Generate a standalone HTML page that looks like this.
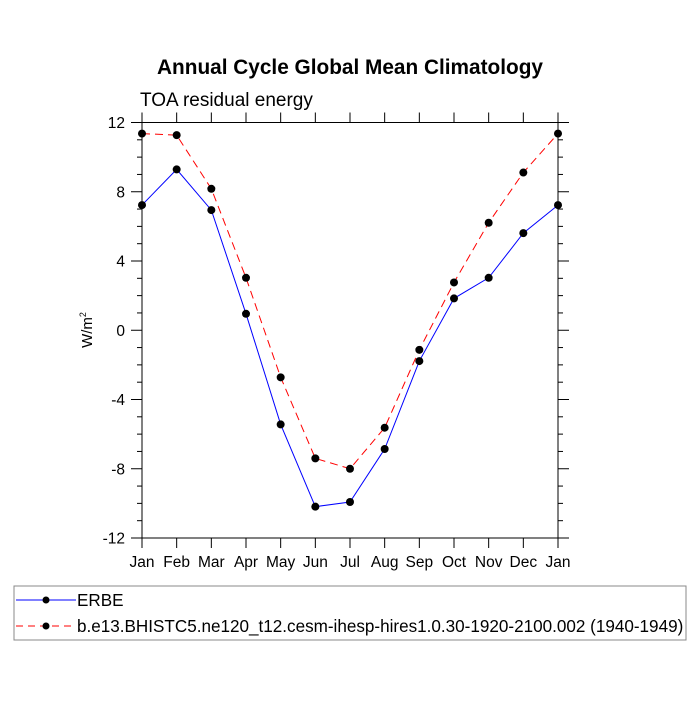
<!DOCTYPE html>
<html><head><meta charset="utf-8"><style>
body{margin:0;background:#fff}
svg text{font-family:"Liberation Sans",Arial,sans-serif}
</style></head><body>
<svg id="chart" width="700" height="700">
<text x="350" y="74" text-anchor="middle" font-size="20.8" font-weight="bold">Annual Cycle Global Mean Climatology</text>
<text x="140" y="106" font-size="19">TOA residual energy</text>
<text transform="translate(92,330) rotate(-90)" text-anchor="middle" font-size="15">W/m<tspan font-size="9" dy="-6">2</tspan></text>
<g id="axes"></g>
<g id="series"></g>
<rect x="14" y="586" width="672" height="54" fill="none" stroke="#888" stroke-width="1"/>
<g>
<line x1="16" y1="600" x2="76" y2="600" stroke="#00f" stroke-width="1"/>
<circle cx="46" cy="600" r="3.5" fill="#000"/>
<text x="77" y="606" font-size="17.1">ERBE</text>
</g>
<g>
<line x1="16" y1="626" x2="76" y2="626" stroke="#f00" stroke-width="1" stroke-dasharray="7,5"/>
<circle cx="46" cy="626" r="3.5" fill="#000"/>
<text x="77" y="632" font-size="17.1">b.e13.BHISTC5.ne120_t12.cesm-ihesp-hires1.0.30-1920-2100.002 (1940-1949)</text>
</g>
</svg>
<script>
const months=["Jan","Feb","Mar","Apr","May","Jun","Jul","Aug","Sep","Oct","Nov","Dec","Jan"];
const yTicks=[-12,-8,-4,0,4,8,12];
const erbe=[7.23,9.29,6.94,0.95,-5.44,-10.19,-9.92,-6.86,-1.78,1.84,3.03,5.61,7.23];
const model=[11.36,11.27,8.17,3.03,-2.72,-7.40,-8.0,-5.63,-1.13,2.76,6.21,9.11,11.36];
const NS="http://www.w3.org/2000/svg";
const L=142,R=558,T=122.5,B=538;
function xs(i){return L+(R-L)*i/12;}
function ys(v){return B-(v+12)/24*(B-T);}
function mk(t,a,p){const e=document.createElementNS(NS,t);for(const k in a)e.setAttribute(k,a[k]);p.appendChild(e);return e;}
const ax=document.getElementById('axes');
const frame=mk('rect',{x:L,y:T,width:R-L,height:B-T,fill:'none',stroke:'#000','stroke-width':1},ax);


months.forEach((m,i)=>{
  const x=xs(i);
  mk('line',{x1:x,y1:B,x2:x,y2:B+10,stroke:'#000'},ax);
  mk('line',{x1:x,y1:T,x2:x,y2:T-10,stroke:'#000'},ax);
  const t=mk('text',{x:x,y:B+29,'text-anchor':'middle','font-size':15.5},ax);
  t.textContent=m;
  
  
});
for(let v=-12;v<=12;v+=1){
  const y=ys(v);const major=yTicks.includes(v);
  const len=major?11:5;
  mk('line',{x1:L,y1:y,x2:L-len,y2:y,stroke:'#000'},ax);
  mk('line',{x1:R,y1:y,x2:R+len,y2:y,stroke:'#000'},ax);
}
yTicks.forEach(v=>{
  const t=mk('text',{x:L-17,y:ys(v)+5.5,'text-anchor':'end','font-size':15.5},ax);
  t.textContent=v;
  
  
});
const sg=document.getElementById('series');
function draw(vals,color,dash,name){
  const g=mk('g',{},sg);
  
  
  const pl=mk('polyline',{points:vals.map((v,i)=>xs(i)+','+ys(v)).join(' '),fill:'none',stroke:color,'stroke-width':1},g);
  if(dash)pl.setAttribute('stroke-dasharray',dash);
  vals.forEach((v,i)=>{
    const c=mk('circle',{cx:xs(i),cy:ys(v),r:4,fill:'#000'},g);
    
    
  });
}
draw(erbe,'#00f',null,'erbe-series');
draw(model,'#f00','8,5','model-series');
</script>
</body></html>
